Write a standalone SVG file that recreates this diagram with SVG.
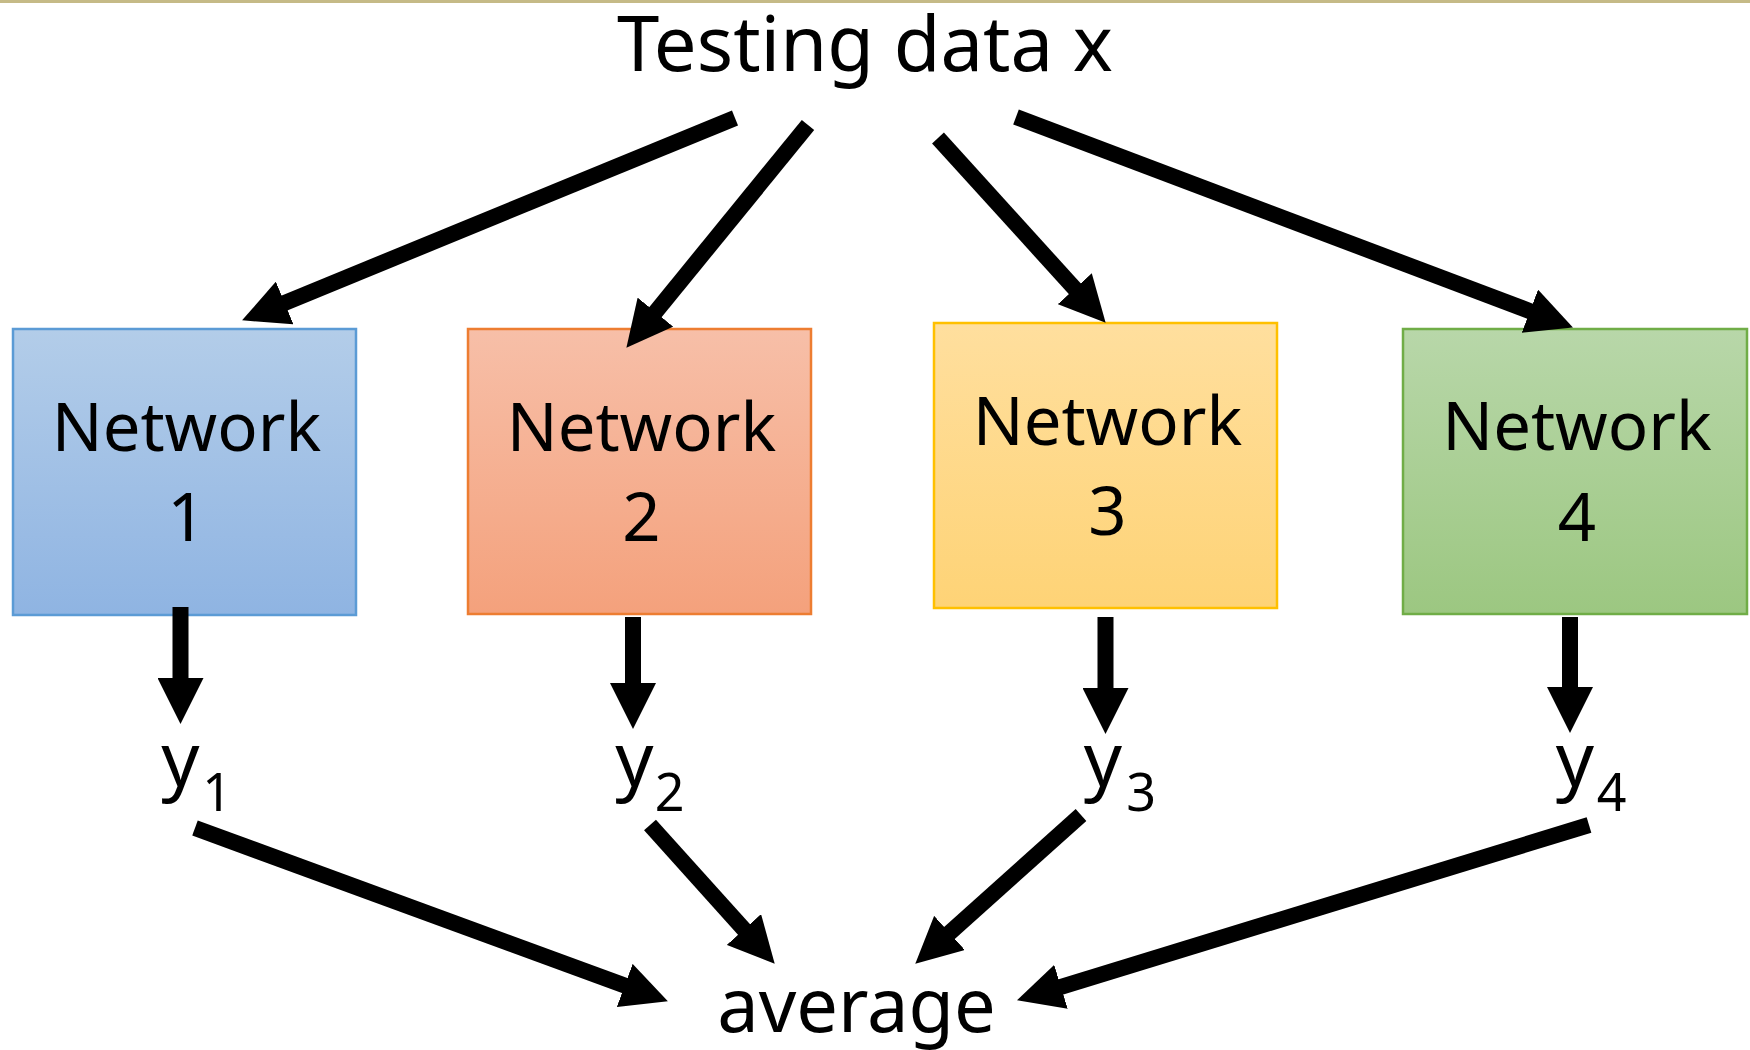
<svg xmlns="http://www.w3.org/2000/svg" width="1750" height="1050" viewBox="0 0 1750 1050">
  <defs>
    <linearGradient id="gBlue" x1="0" y1="0" x2="0" y2="1">
      <stop offset="0" stop-color="#b3cde9"/>
      <stop offset="1" stop-color="#8fb4e2"/>
    </linearGradient>
    <linearGradient id="gOrange" x1="0" y1="0" x2="0" y2="1">
      <stop offset="0" stop-color="#f7bfa8"/>
      <stop offset="1" stop-color="#f4a17c"/>
    </linearGradient>
    <linearGradient id="gYellow" x1="0" y1="0" x2="0" y2="1">
      <stop offset="0" stop-color="#ffdf9e"/>
      <stop offset="1" stop-color="#fed376"/>
    </linearGradient>
    <linearGradient id="gGreen" x1="0" y1="0" x2="0" y2="1">
      <stop offset="0" stop-color="#b8d7a9"/>
      <stop offset="1" stop-color="#9cc781"/>
    </linearGradient>
    <marker id="head" viewBox="0 0 46 46" refX="5" refY="23" markerWidth="46" markerHeight="46" markerUnits="userSpaceOnUse" orient="auto">
      <path d="M0,0 L46,23 L0,46 Z" fill="#000"/>
    </marker>
    <style>
      .lbl { font-family: "Noto Sans", "Open Sans", sans-serif; fill: #000; }
      .net { font-size: 67px; text-anchor: middle; }
      .box { stroke-width: 2.5; }
      .arrow { stroke: #000; stroke-width: 16; fill: none; marker-end: url(#head); }
      .yv { font-size: 75px; text-anchor: middle; }
      .ys { font-size: 52px; text-anchor: middle; }
    </style>
  </defs>

  <rect x="0" y="0" width="1750" height="1050" fill="#ffffff"/>
  <rect x="0" y="0" width="1750" height="3" fill="#c5ba87"/>

  <!-- input -->
  <g id="input">
    <text class="lbl" x="865" y="71" font-size="76" text-anchor="middle">Testing data x</text>
  </g>

  <!-- networks -->
  <g id="network1">
    <rect class="box" x="13" y="329" width="343" height="286" fill="url(#gBlue)" stroke="#5b9bd5"/>
    <text class="lbl net" x="186.5" y="451">Network</text>
    <text class="lbl net" x="186.5" y="541">1</text>
  </g>
  <g id="network2">
    <rect class="box" x="468" y="329" width="343" height="285" fill="url(#gOrange)" stroke="#ed7d31"/>
    <text class="lbl net" x="641.5" y="451">Network</text>
    <text class="lbl net" x="641.5" y="541">2</text>
  </g>
  <g id="network3">
    <rect class="box" x="934" y="323" width="343" height="285" fill="url(#gYellow)" stroke="#ffc000"/>
    <text class="lbl net" x="1107.5" y="445">Network</text>
    <text class="lbl net" x="1107.5" y="535">3</text>
  </g>
  <g id="network4">
    <rect class="box" x="1403" y="329" width="344" height="285" fill="url(#gGreen)" stroke="#70ad47"/>
    <text class="lbl net" x="1577" y="450">Network</text>
    <text class="lbl net" x="1577" y="541">4</text>
  </g>

  <!-- outputs -->
  <g id="y1">
    <text class="lbl yv" x="180.5" y="786">y</text>
    <text class="lbl ys" x="217" y="811">1</text>
  </g>
  <g id="y2">
    <text class="lbl yv" x="634.5" y="786">y</text>
    <text class="lbl ys" x="669.5" y="811">2</text>
  </g>
  <g id="y3">
    <text class="lbl yv" x="1103" y="786">y</text>
    <text class="lbl ys" x="1141" y="811">3</text>
  </g>
  <g id="y4">
    <text class="lbl yv" x="1575" y="786">y</text>
    <text class="lbl ys" x="1611.5" y="811">4</text>
  </g>

  <g id="average">
    <text class="lbl" x="856.5" y="1032" font-size="74" text-anchor="middle">average</text>
  </g>

  <!-- connectors -->
  <g id="connectors">
    <line class="arrow" x1="735" y1="118" x2="280" y2="304.8"/>
    <line class="arrow" x1="808" y1="125" x2="652.3" y2="316"/>
    <line class="arrow" x1="938" y1="138" x2="1078.1" y2="292.4"/>
    <line class="arrow" x1="1016" y1="117" x2="1534.6" y2="312.9"/>

    <line class="arrow" x1="180.5" y1="607" x2="180.5" y2="683"/>
    <line class="arrow" x1="633" y1="617" x2="633" y2="688"/>
    <line class="arrow" x1="1105.5" y1="617" x2="1105.5" y2="693"/>
    <line class="arrow" x1="1570" y1="617" x2="1570" y2="692"/>

    <line class="arrow" x1="195" y1="828" x2="629.4" y2="987.2"/>
    <line class="arrow" x1="650" y1="825" x2="747.3" y2="933.2"/>
    <line class="arrow" x1="1081" y1="815" x2="945.8" y2="936.3"/>
    <line class="arrow" x1="1589" y1="825" x2="1056.2" y2="988.3"/>
  </g>
</svg>
